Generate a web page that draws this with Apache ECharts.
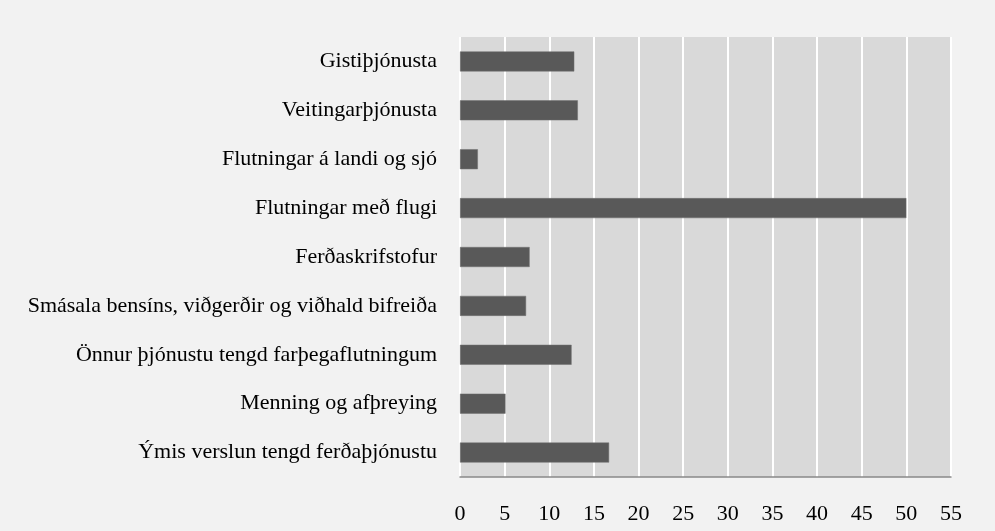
<!DOCTYPE html>
<html>
<head>
<meta charset="utf-8">
<script src="https://cdn.jsdelivr.net/npm/echarts@6/dist/echarts.min.js"></script>
<style>
  html, body { margin: 0; padding: 0; background: #f2f2f2; }
  #chart { width: 995px; height: 531px; }
</style>
</head>
<body>
<div id="chart"></div>
<script>
// categories, top to bottom
var categories = [
  'Gistiþjónusta',
  'Veitingarþjónusta',
  'Flutningar á landi og sjó',
  'Flutningar með flugi',
  'Ferðaskrifstofur',
  'Smásala bensíns, viðgerðir og viðhald bifreiða',
  'Önnur þjónustu tengd farþegaflutningum',
  'Menning og afþreying',
  'Ýmis verslun tengd ferðaþjónustu'
];
var values = [12.8, 13.2, 2.0, 50.0, 7.8, 7.4, 12.5, 5.1, 16.7];
var xTicks = [0, 5, 10, 15, 20, 25, 30, 35, 40, 45, 50, 55];

var chart = echarts.init(document.getElementById('chart'));
var font = '"Liberation Serif", "Times New Roman", serif';

var option = {
  backgroundColor: '#f2f2f2',
  animation: false,
  grid: {
    left: 460,
    right: 44,
    top: 37,
    bottom: 54,
    show: true,
    backgroundColor: '#d9d9d9',
    borderWidth: 0
  },
  xAxis: {
    type: 'value',
    min: xTicks[0],
    max: xTicks[xTicks.length - 1],
    interval: 5,
    axisLine: { show: true, lineStyle: { color: '#898989', width: 1.5 } },
    axisTick: { show: false },
    axisLabel: {
      margin: 26,
      color: '#000',
      fontFamily: font,
      fontSize: 22
    },
    splitLine: { show: true, lineStyle: { color: '#ffffff', width: 2 } }
  },
  yAxis: {
    type: 'category',
    inverse: true,
    data: categories,
    axisLine: { show: false },
    axisTick: { show: false },
    axisLabel: {
      margin: 23,
      color: '#000',
      fontFamily: font,
      fontSize: 22
    }
  },
  series: [{
    type: 'bar',
    data: values,
    barWidth: 20,
    itemStyle: { color: '#595959', borderColor: '#707070', borderWidth: 0.5 }
  }]
};
chart.setOption(option);
</script>
</body>
</html>
